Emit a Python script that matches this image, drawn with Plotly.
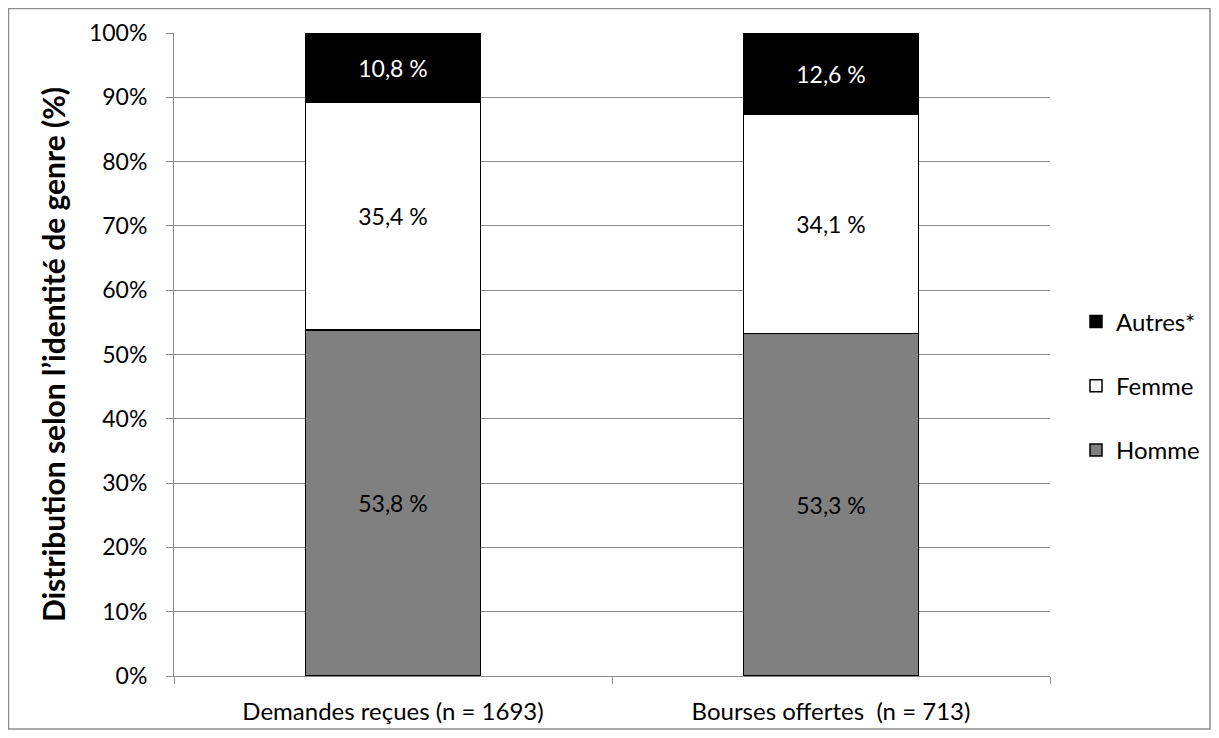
import plotly.graph_objects as go

categories = ["Demandes reçues (n = 1693)", "Bourses offertes  (n = 713)"]
homme = [53.8, 53.3]
femme = [35.4, 34.1]
autres = [10.8, 12.6]
y_ticks = [0, 10, 20, 30, 40, 50, 60, 70, 80, 90, 100]
y_ticklabels = [f"{v}%" for v in y_ticks]

FONT = "Lato, 'Open Sans', sans-serif"

def lab(vals):
    return [f"{v:.1f} %".replace(".", ",") for v in vals]

fig = go.Figure()
series = [
    ("Homme", homme, "#808080", "black", 3),
    ("Femme", femme, "#ffffff", "black", 2),
    ("Autres*", autres, "#000000", "white", 1),
]
for name, vals, col, tcol, rank in series:
    fig.add_trace(go.Bar(
        x=categories, y=vals, name=name, legendgroup=name, legendrank=rank,
        marker=dict(color=col, line=dict(color="black", width=1.5)),
        text=lab(vals), textposition="inside", insidetextanchor="middle",
        textfont=dict(color=tcol, size=23, family=FONT),
        constraintext="none", hoverinfo="skip",
    ))

# figure is placed with an 8px page margin
W, H = 1203, 722
L, T = 166, 25
R = W - 1042
B = H - 668
pw, ph = W - L - R, H - T - B

def px(x):
    return (x - L) / pw

def py(y):
    return (H - B - y) / ph

fig.update_layout(
    width=W, height=H,
    margin=dict(l=L, r=R, t=T, b=B, autoexpand=False),
    barmode="stack", bargap=0.6,
    plot_bgcolor="white", paper_bgcolor="white",
    font=dict(family=FONT, size=23, color="black"),
    legend=dict(x=px(1068), y=py(378), xanchor="left", yanchor="middle",
                traceorder="grouped", tracegroupgap=30,
                font=dict(size=24, family=FONT), itemwidth=30, bgcolor="rgba(0,0,0,0)"),
    showlegend=True,
)
fig.update_yaxes(
    range=[0, 100], tickvals=y_ticks, ticktext=y_ticklabels,
    showgrid=True, gridcolor="#8c8c8c", gridwidth=1,
    showline=True, linecolor="#8c8c8c", linewidth=1,
    ticks="outside", ticklen=7, tickcolor="#8c8c8c",
    tickfont=dict(size=23, family=FONT), ticklabelstandoff=14,
    title=dict(text="Distribution selon l’identité de genre (%)",
               font=dict(size=30, family=FONT, weight="bold"), standoff=14),
    zeroline=False, automargin=False,
)
fig.update_xaxes(
    showline=True, linecolor="#8c8c8c", linewidth=1,
    ticks="outside", tickson="boundaries", ticklen=7, tickcolor="#8c8c8c",
    tickfont=dict(size=24, family=FONT), ticklabelstandoff=14,
    automargin=False,
)
fig.add_shape(type="rect", xref="paper", yref="paper",
              x0=px(0.5), x1=px(W - 1), y0=py(H - 1), y1=py(0.5),
              line=dict(color="#8c8c8c", width=1.5), fillcolor="rgba(0,0,0,0)", layer="below")

fig.write_html("out.html")
